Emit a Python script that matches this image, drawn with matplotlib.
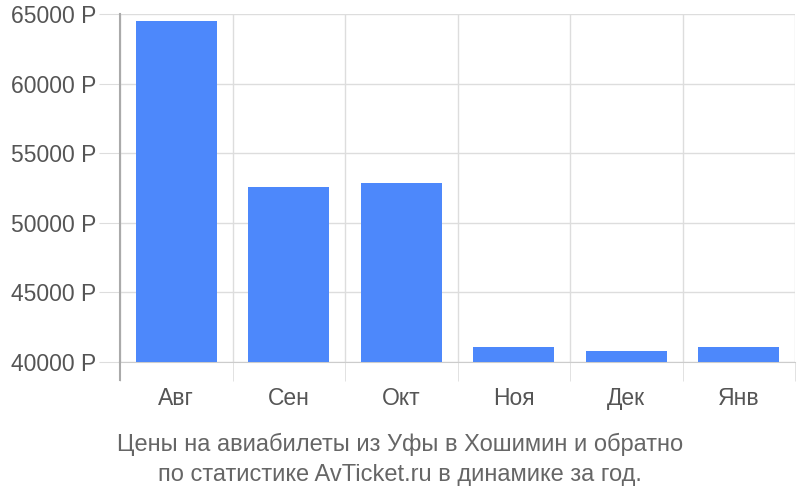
import matplotlib.pyplot as plt

months = ["Авг", "Сен", "Окт", "Ноя", "Дек", "Янв"]
prices = [64500, 52570, 52880, 41100, 40810, 41100]
yticks = [40000, 45000, 50000, 55000, 60000, 65000]

plt.rcParams['font.family'] = ['Liberation Sans', 'DejaVu Sans']

fig = plt.figure(figsize=(8, 5), dpi=100)
ax = fig.add_axes([0.15, 0.276, 0.84375, 0.696])

x = range(len(months))
ax.bar(x, prices, width=0.72, color="#4d88fb", zorder=3)

ax.set_xlim(-0.5, len(months) - 0.5)
ax.set_ylim(40000, 65000)

ax.set_yticks(yticks)
ax.set_yticklabels([f"{v} Р" for v in yticks])
ax.set_xticks(list(x))
ax.set_xticklabels(months)
ax.set_xticks([i - 0.5 for i in range(len(months) + 1)], minor=True)

ax.grid(True, axis="y", color="#dddddd", linewidth=1, zorder=0)
ax.grid(True, axis="x", which="minor", color="#dddddd", linewidth=1, zorder=0)

ax.tick_params(axis="y", length=15, color="#dddddd", labelsize=16.5, labelcolor="#555555", pad=2)
ax.tick_params(axis="x", which="major", length=0, labelsize=16.5, labelcolor="#555555", pad=18)
ax.tick_params(axis="x", which="minor", length=13.5, color="#dddddd")

for side in ["top", "right"]:
    ax.spines[side].set_visible(False)
ax.spines["bottom"].set_color("#cccccc")
ax.spines["left"].set_color("#aaaaaa")
ax.spines["left"].set_linewidth(1.5)
ax.plot([0, 0], [0, -0.052], transform=ax.transAxes, color="#aaaaaa",
        linewidth=1.5, clip_on=False, zorder=4)

fig.text(0.5, 0.081, "Цены на авиабилеты из Уфы в Хошимин и обратно\nпо статистике AvTicket.ru в динамике за год.",
         ha="center", va="center", fontsize=17, color="#666666", linespacing=1.45)

fig.savefig("out.png", dpi=100)
